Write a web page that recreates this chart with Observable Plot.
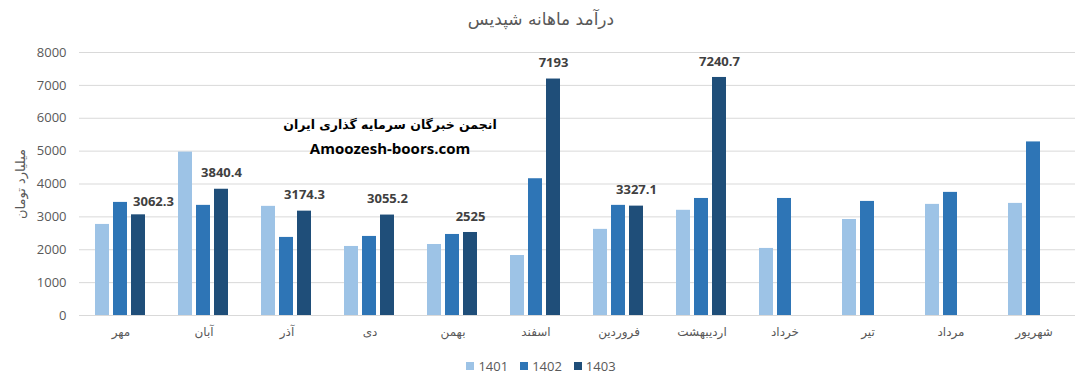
<!DOCTYPE html>
<html><head><meta charset="utf-8">
<script src="https://cdn.jsdelivr.net/npm/d3@7"></script>
<script src="https://cdn.jsdelivr.net/npm/@observablehq/plot@0.6"></script>
<style>
body{margin:0;background:#fff;font-family:"Open Sans","DejaVu Sans",sans-serif;}
#wrap{position:relative;width:1082px;height:386px;overflow:hidden;}
#title{height:40px;text-align:center;font-family:"DejaVu Sans",sans-serif;font-size:17px;color:#595959;line-height:38px;direction:rtl;}
#legend{display:flex;justify-content:center;align-items:center;height:41px;font-size:13px;color:#595959;}
#legend .it{display:flex;align-items:center;margin:0 6px;}
#legend .sw{width:8px;height:8px;margin-right:4px;}
.wm{position:absolute;left:190px;width:400px;text-align:center;font-weight:bold;color:#000;font-size:15px;}
svg g[aria-label^="fx-axis"] text{font-size:12px;font-family:"DejaVu Sans",sans-serif;}
svg g[aria-label="y-axis label"] text{font-size:13px;font-family:"DejaVu Sans",sans-serif;}
</style></head>
<body>
<div id="wrap">
  <div id="title">درآمد ماهانه شپدیس</div>
  <div id="chart"></div>
  <div id="legend"></div>
  <div class="wm" style="top:117px;font-size:12.5px;font-family:'DejaVu Sans',sans-serif;direction:rtl;">انجمن خبرگان سرمایه گذاری ایران</div>
  <div class="wm" style="top:138px;font-family:'Open Sans',sans-serif;">Amoozesh-boors.com</div>
</div>
<script>
const months = ["مهر","آبان","آذر","دی","بهمن","اسفند","فروردین","اردیبهشت","خرداد","تیر","مرداد","شهریور"];
const years = ["1401","1402","1403"];
const v1401 = [2770, 4970, 3320, 2100, 2160, 1825, 2620, 3200, 2040, 2920, 3380, 3410];
const v1402 = [3440, 3350, 2375, 2405, 2465, 4160, 3350, 3560, 3560, 3470, 3745, 5280];
const v1403 = [3062.3, 3840.4, 3174.3, 3055.2, 2525, 7193, 3327.1, 7240.7, null, null, null, null];
const yTicks = [0, 1000, 2000, 3000, 4000, 5000, 6000, 7000, 8000];
const colors = ["#9dc3e6", "#2e75b6", "#1f4e79"];
const yLabel = "میلیارد تومان";

const series = [v1401, v1402, v1403];
const rows = months.flatMap((m, i) => years.map((yr, j) => ({month: m, year: yr, value: series[j][i]})))
  .filter(d => d.value != null);
const labels = rows.filter(d => d.year === "1403");
const firstLabel = labels.filter(d => d.month === months[0]);
const otherLabels = labels.filter(d => d.month !== months[0]);

const textOpts = {fx: "month", x: "year", y: "value", text: d => String(d.value),
  fontWeight: "bold", fontSize: 13, fill: "#404040", fontFamily: "Open Sans"};

const chart = Plot.plot({
  width: 1082,
  height: 305,
  marginTop: 12,
  marginLeft: 76,
  marginRight: 5,
  marginBottom: 30,
  style: {fontFamily: "Open Sans, DejaVu Sans, sans-serif", fontSize: "13px", color: "#595959", background: "#fff"},
  fx: {domain: months, paddingInner: 0, paddingOuter: 0, padding: 0, axis: "bottom", tickSize: 0, tickPadding: 12, label: null},
  x: {domain: years, paddingInner: 0.22, paddingOuter: 0.865, axis: null},
  y: {domain: [0, 8000], ticks: yTicks, tickSize: 0, tickPadding: 13, tickFormat: d => String(d),
      label: yLabel, labelAnchor: "center", labelOffset: 64, labelArrow: "none"},
  color: {domain: years, range: colors},
  marks: [
    Plot.ruleY(yTicks, {stroke: "#d9d9d9", strokeWidth: 1}),
    Plot.barY(rows, {fx: "month", x: "year", y: "value", fill: "year"}),
    Plot.text(otherLabels, {...textOpts, dy: -16}),
    Plot.text(firstLabel, {...textOpts, dy: -13, dx: 15})
  ]
});
document.getElementById("chart").appendChild(chart);

const lg = document.getElementById("legend");
years.forEach((yr, j) => {
  const it = document.createElement("div");
  it.className = "it";
  it.innerHTML = `<span class="sw" style="background:${colors[j]}"></span><span>${yr}</span>`;
  lg.appendChild(it);
});
</script>
</body></html>
